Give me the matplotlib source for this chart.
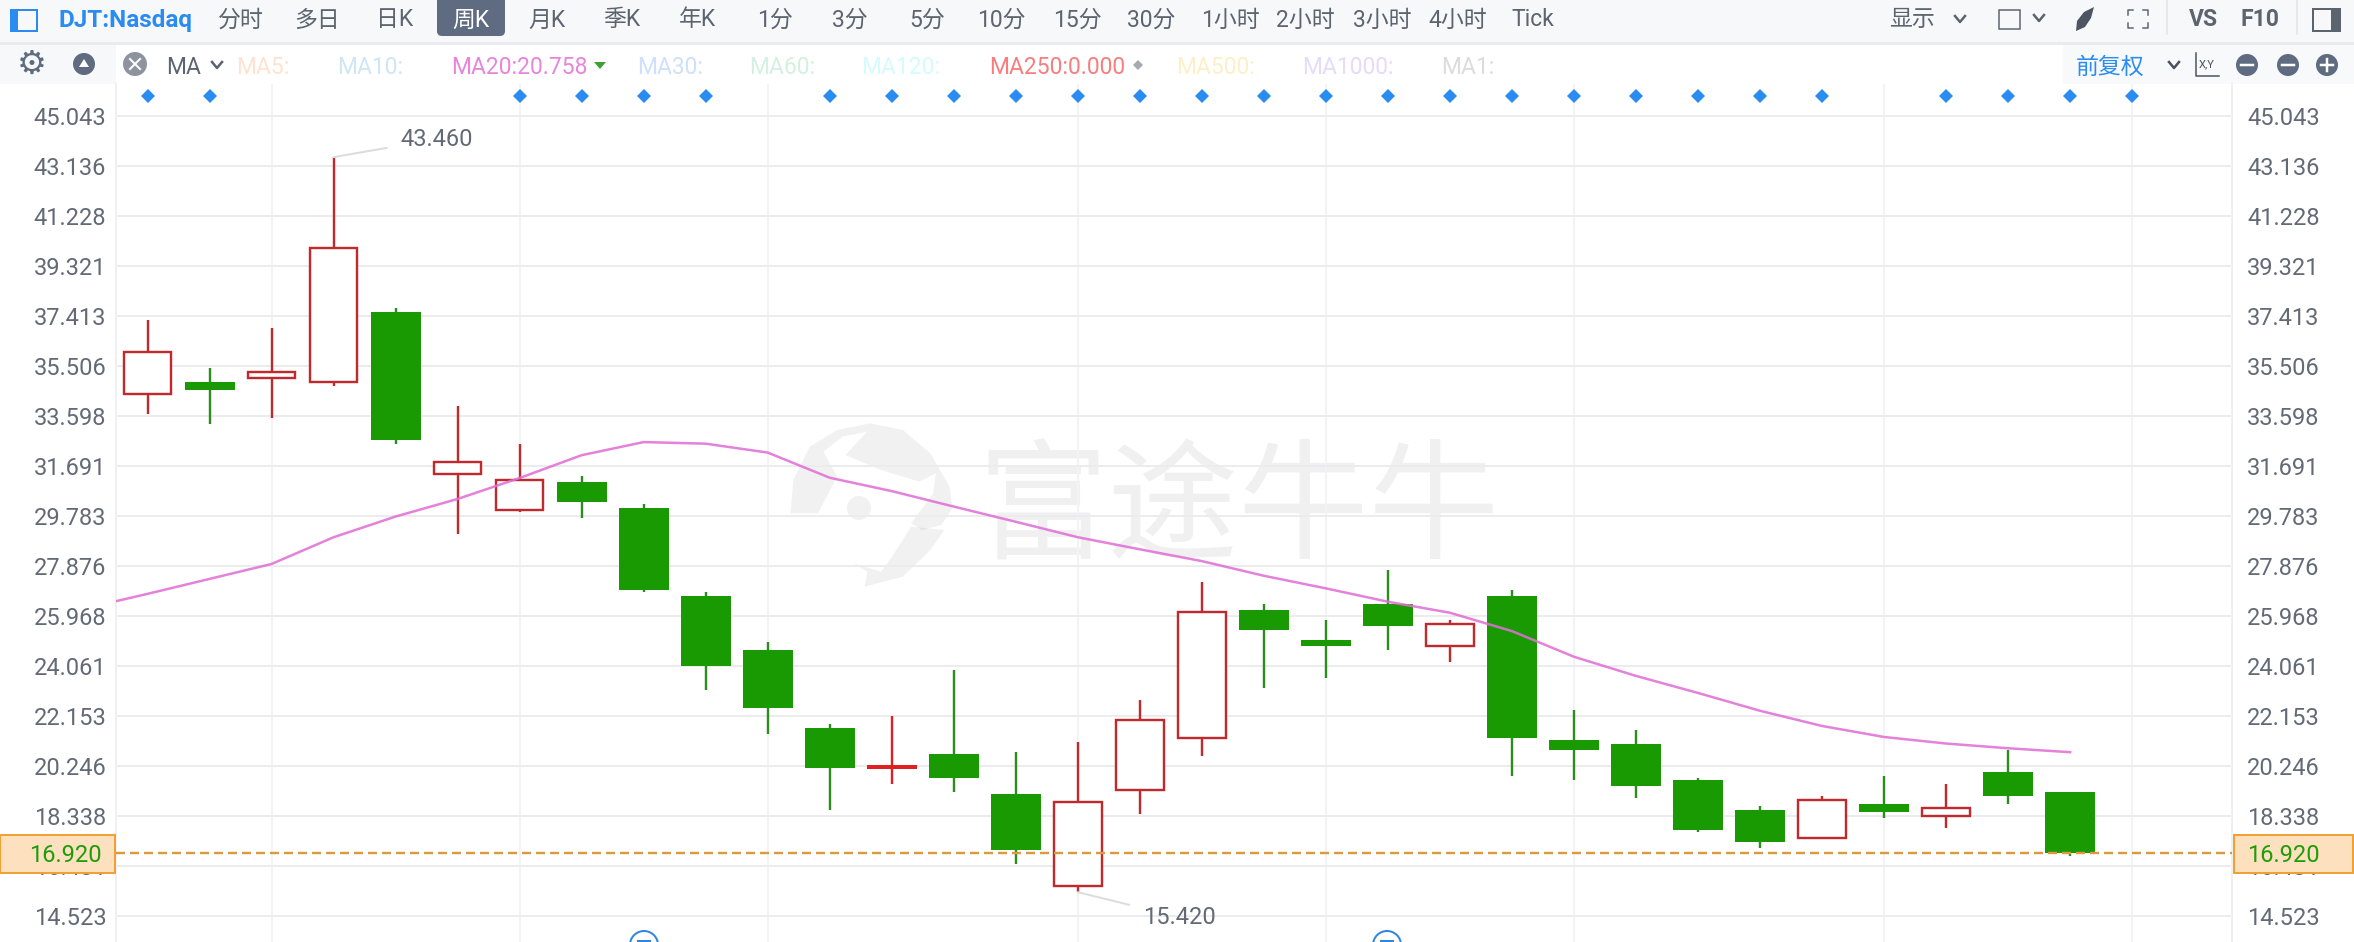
import numpy as np
import matplotlib
matplotlib.use('Agg')
import matplotlib.pyplot as plt
from matplotlib.patches import Rectangle, Circle, FancyBboxPatch, Polygon

W, H = 2354, 942
PX = 72 / 100  # one pixel in points

opens = [34.43, 34.88, 35.02, 34.88, 37.55, 31.36, 30.00, 31.07, 30.08, 26.72, 24.66, 21.68, 20.12, 20.69, 19.17, 15.66,
         19.32, 21.30, 26.19, 25.04, 26.41, 24.80, 26.72, 21.23, 21.07, 19.70, 18.56, 17.47, 18.78, 18.31, 20.00, 19.24]
closes = [36.04, 34.58, 35.28, 40.01, 32.67, 31.84, 31.16, 30.31, 26.95, 24.05, 22.45, 20.16, 20.27, 19.78, 17.03, 18.87,
          22.00, 26.12, 25.42, 24.81, 25.57, 25.66, 21.30, 20.84, 19.47, 17.79, 17.33, 18.95, 18.48, 18.64, 19.09, 16.92]
highs = [37.25, 35.42, 36.94, 43.46, 37.69, 33.97, 32.52, 31.30, 30.23, 26.87, 24.96, 21.84, 22.14, 23.90, 20.77, 21.15,
         22.75, 27.25, 26.41, 25.80, 27.71, 25.80, 26.95, 22.37, 21.61, 19.78, 18.71, 19.09, 19.85, 19.55, 20.84, 19.24]
lows = [33.66, 33.28, 33.52, 34.73, 32.52, 29.08, 29.92, 29.69, 26.87, 23.13, 21.45, 18.55, 19.55, 19.24, 16.49, 15.42,
        18.40, 20.62, 23.21, 23.59, 24.66, 24.20, 19.85, 19.70, 19.01, 17.72, 17.11, 17.47, 18.25, 17.87, 18.78, 16.80]
ma20_x = list(range(-1, 32))
ma20 = [26.25, 26.80, 27.37, 27.94, 28.96, 29.75, 30.42, 31.22, 32.09, 32.59, 32.53, 32.19, 31.23, 30.72, 30.13, 29.55,
        28.96, 28.50, 28.05, 27.49, 27.01, 26.50, 26.08, 25.38, 24.40, 23.67, 23.02, 22.34, 21.76, 21.34, 21.09, 20.91, 20.76]
y_ticks = [45.043, 43.136, 41.228, 39.321, 37.413, 35.506, 33.598, 31.691, 29.783, 27.876, 25.968, 24.061, 22.153,
           20.246, 18.338, 16.431, 14.523]
x_grid = [2, 6, 10, 15, 19, 23, 28, 32]
event_marks = [0, 1, 6, 7, 8, 9, 11, 12, 13, 14, 15, 16, 17, 18, 19, 20, 21, 22, 23, 24, 25, 26, 27, 29, 30, 31, 32]
doji = [12]
last_price = 16.92
period_names = ['分时', '多日', '日K', '周K', '月K', '季K', '年K', '1分', '3分', '5分', '10分', '15分', '30分',
                '1小时', '2小时', '3小时', '4小时', 'Tick']
period_x = [241, 317, 395, 471, 547, 622, 697, 775, 850, 927, 1001, 1077, 1151, 1230, 1305, 1382, 1458, 1533]
ma_names = ['MA5:', 'MA10:', 'MA20:20.758', 'MA30:', 'MA60:', 'MA120:', 'MA250:0.000', 'MA500:', 'MA1000:', 'MA1:']
ma_x = [263, 370, 519, 670, 782, 901, 1057, 1216, 1348, 1468]
ma_colors = ['#fde3d0', '#cfe6f5', '#e884dc', '#cfe0fb', '#d5efe3', '#d5fbfd', '#f77e7e', '#fdf0c8', '#e5dbfa', '#dcdcdc']

FONT = ['Roboto', 'Noto Sans CJK SC', 'DejaVu Sans']
RED = '#bf2a2e'
GREEN = '#1a9a02'
WICK_G = '#2c8c1e'
GREY = '#5f6b80'
BLUE = '#2a8cf0'
TICK = '#636a76'
BAR_FS = 16.5
ROW1 = 20
ROW2 = 67

fig = plt.figure(figsize=(W / 100, H / 100), dpi=100, facecolor='white')

# background layer: toolbars and watermark
back = fig.add_axes([0, 0, 1, 1], zorder=0)
back.set_xlim(0, W)
back.set_ylim(H, 0)
back.axis('off')

back.add_patch(Rectangle((0, 0), W, 42, fc='#f7f8fa', ec='none'))
back.add_patch(Rectangle((0, 42), W, 3, fc='#e9ebee', ec='none'))
back.add_patch(Rectangle((0, 45), 116, 39, fc='#f7f8fa', ec='none'))
back.add_patch(Rectangle((2063, 45), W - 2063, 39, fc='#f7f9fb', ec='none'))

# watermark
back.text(1238, 512, '富途牛牛', ha='center', va='center', fontsize=94,
          family=['Noto Sans CJK SC'], color='black', alpha=0.06)
wm = dict(fc='black', ec='none', alpha=0.055)
logo_a = [(165, 400), (170, 300), (200, 200), (250, 150), (310, 130), (370, 150), (420, 220), (455, 320), (460, 385),
          (440, 435), (405, 450), (385, 430), (425, 340), (430, 280), (400, 305), (330, 270), (265, 225), (305, 155),
          (260, 170), (225, 215), (250, 290), (215, 400)]
logo_b = [(385, 440), (350, 530), (330, 575), (300, 560), (280, 550), (305, 575), (300, 620), (370, 590), (420, 510), (445, 450)]
back.add_patch(Polygon([(700 + x / 1.823, 380 + y / 3) for x, y in logo_a], **wm))
back.add_patch(Polygon([(700 + x / 1.823, 380 + y / 3) for x, y in logo_b], **wm))
back.add_patch(Circle((859, 508), 12, **wm))

# main chart, every mark goes through these scales
ax = fig.add_axes([116 / W, 0, (2232 - 116) / W, (H - 84) / H], zorder=1)
ax.patch.set_alpha(0)
ax.set_xlim((116 - 147.5) / 62.02, (2232 - 147.5) / 62.02)
ax.set_ylim(45.043 - (H - 115.67) * 0.03815, 45.043 + (115.67 - 84) * 0.03815)
ax.set_yticks(y_ticks)
ax.set_yticklabels(['%.3f' % v for v in y_ticks], family=FONT, fontsize=17, color=TICK, va='center_baseline')
ax.set_xticks(x_grid)
ax.set_xticklabels([])
ax.tick_params(length=0)
ax.tick_params(axis='y', pad=7)
ax.grid(axis='y', color='#ececee', lw=2 * PX)
ax.grid(axis='x', color='#f3f3f5', lw=2 * PX)
ax.set_axisbelow(True)
for s in ['top', 'bottom']:
    ax.spines[s].set_visible(False)
for s in ['left', 'right']:
    ax.spines[s].set_color('#f0f0f2')
    ax.spines[s].set_linewidth(2 * PX)

right = ax.twinx()
right.set_zorder(0)
right.set_ylim(ax.get_ylim())
right.set_yticks(y_ticks)
right.set_yticklabels(['%.3f' % v for v in y_ticks], family=FONT, fontsize=17, color=TICK, va='center_baseline')
right.tick_params(length=0, pad=11)
for s in right.spines.values():
    s.set_visible(False)

for i in range(len(opens)):
    up = closes[i] >= opens[i]
    if i in doji:
        ax.vlines(i, lows[i], highs[i], color='#d9232a', lw=2.4 * PX, zorder=3)
        ax.bar(i, closes[i] - opens[i], bottom=opens[i], width=50 / 62, color='#e01f1f', zorder=4)
    elif up:
        ax.vlines(i, lows[i], highs[i], color=RED, lw=2.4 * PX, zorder=3)
        ax.bar(i, closes[i] - opens[i], bottom=opens[i], width=47.5 / 62, facecolor='white', edgecolor=RED,
               linewidth=2.4 * PX, zorder=4)
    else:
        ax.vlines(i, lows[i], highs[i], color=WICK_G, lw=2.4 * PX, zorder=3)
        ax.bar(i, opens[i] - closes[i], bottom=closes[i], width=50 / 62, color=GREEN, zorder=4)

ax.plot(ma20_x, ma20, color='#e070d6', lw=2.5 * PX, alpha=0.88, zorder=5)
ax.axhline(last_price, color='#dc9a40', lw=2.4 * PX, ls=(0, (9 / 2.4, 5 / 2.4)), zorder=6)

# event diamonds along the top of the plot
ax.plot(event_marks, [0.986] * len(event_marks), 'D', color=BLUE, ms=7.2, mew=0,
        transform=ax.get_xaxis_transform(), zorder=5, clip_on=False)

# high and low labels
ax.annotate('43.460', xy=(3, 43.46), xytext=(67, 18), textcoords='offset pixels', family=FONT, fontsize=17,
            color=TICK, va='center', ha='left', zorder=7,
            arrowprops=dict(arrowstyle='-', color='#dcdcdc', lw=2 * PX, shrinkA=8, shrinkB=0))
ax.annotate('15.420', xy=(15, 15.42), xytext=(65, -25), textcoords='offset pixels', family=FONT, fontsize=17,
            color=TICK, va='center', ha='left', zorder=7,
            arrowprops=dict(arrowstyle='-', color='#dcdcdc', lw=2 * PX, shrinkA=8, shrinkB=0))

# front layer: text of the toolbars, icons, price boxes
top = fig.add_axes([0, 0, 1, 1], zorder=3)
top.set_xlim(0, W)
top.set_ylim(H, 0)
top.axis('off')
top.patch.set_alpha(0)

top.text(106, 953, '12.616', ha='right', va='center', family=FONT, fontsize=17, color=TICK)
top.text(2247, 953, '12.616', ha='left', va='center', family=FONT, fontsize=17, color=TICK)

for xb, xe, xt, ha in [(0, 115, 102, 'right'), (2234, 2353, 2247, 'left')]:
    top.add_patch(Rectangle((xb, 835), xe - xb, 38, fc='#fde0bd', ec='#f0a035', lw=2 * PX, zorder=6))
    top.text(xt, 855, '16.920', ha=ha, va='center', family=FONT, fontsize=17, color='#1f9c0a', zorder=7)

# bottom circles, cut by the edge of the picture
for xc in [644, 1387]:
    top.add_patch(Circle((xc, 945), 14, fc='white', ec='#2e86de', lw=2 * PX))
    top.plot([xc - 6, xc + 6], [941, 941], color='#2e86de', lw=2 * PX)

# first row
top.add_patch(Rectangle((11, 10), 26, 21, fc='none', ec=BLUE, lw=2 * PX))
top.add_patch(Rectangle((11, 10), 7, 21, fc=BLUE, ec='none'))
top.text(59, ROW1, 'DJT:Nasdaq', ha='left', va='center', family=FONT, fontsize=17.5, fontweight='bold', color=BLUE)
top.add_patch(FancyBboxPatch((437, -6), 68, 42, boxstyle='round,pad=0,rounding_size=5', fc=GREY, ec='none'))
for name, xp in zip(period_names, period_x):
    col = 'white' if name == '周K' else '#5c6470'
    top.text(xp, ROW1, name, ha='center', va='center', family=FONT, fontsize=BAR_FS, color=col)
top.text(1912, ROW1, '显示', ha='center', va='center', family=FONT, fontsize=BAR_FS, color='#5c6470')
for xc, yc, col in [(1960, 19, '#5c6470'), (2039, 18, '#5c6470'), (217, 65, '#5c6470'), (2174, 65, '#4a5260')]:
    top.plot([xc - 5, xc, xc + 5], [yc - 3, yc + 3, yc - 3], color=col, lw=2.5 * PX)
top.add_patch(Rectangle((1999, 10), 21, 19, fc='none', ec='#5c6470', lw=1.5 * PX))
top.add_patch(Polygon([(2094, 7), (2091, 18), (2085, 27), (2076, 31), (2077, 21), (2084, 12)], fc='#4d5562', ec='none'))
for sx, sy in [(-1, -1), (1, -1), (-1, 1), (1, 1)]:
    xc, yc = 2138 + sx * 10, 19 + sy * 9
    top.plot([xc - sx * 5, xc, xc], [yc, yc, yc - sy * 5], color='#5c6470', lw=1.5 * PX)
top.plot([2167, 2167], [0, 34], color='#e2e4e8', lw=1.5 * PX)
top.plot([2297, 2297], [0, 34], color='#e2e4e8', lw=1.5 * PX)
top.text(2203, ROW1, 'VS', ha='center', va='center', family=FONT, fontsize=BAR_FS, fontweight='bold', color='#5c6470')
top.text(2260, ROW1, 'F10', ha='center', va='center', family=FONT, fontsize=BAR_FS, fontweight='bold', color='#5c6470')
top.add_patch(Rectangle((2313, 9), 27, 22, fc='none', ec='#5c6470', lw=2 * PX))
top.add_patch(Rectangle((2331, 9), 9, 22, fc='#5c6470', ec='none'))

# second row
top.text(32, 64, '\u2699', ha='center', va='center', family=['DejaVu Sans'], fontsize=24, color=GREY)
top.add_patch(Circle((84, 64), 11, fc=GREY, ec='none'))
top.add_patch(Polygon([(84, 59), (79, 67), (89, 67)], fc='white', ec='none'))
top.add_patch(Circle((135, 64), 12, fc='#8d94a0', ec='none'))
top.plot([130, 140], [59, 69], color='white', lw=2 * PX)
top.plot([130, 140], [69, 59], color='white', lw=2 * PX)
top.text(184, ROW2, 'MA', ha='center', va='center', family=FONT, fontsize=BAR_FS, color='#5c6470')
for name, xp, col in zip(ma_names, ma_x, ma_colors):
    top.text(xp, ROW2, name, ha='center', va='center', family=FONT, fontsize=BAR_FS, color=col)
top.add_patch(Polygon([(594, 62), (606, 62), (600, 69)], fc='#3f9f32', ec='none'))
top.add_patch(Polygon([(1138, 60), (1143, 65), (1138, 70), (1133, 65)], fc='#a5a9b0', ec='none'))
top.text(2110, ROW2, '前复权', ha='center', va='center', family=FONT, fontsize=BAR_FS, color=BLUE)
top.text(2207, 64, 'X,Y', ha='center', va='center', family=FONT, fontsize=8, color='#4a5260')
top.plot([2196, 2196, 2219], [53, 76, 76], color='#4a5260', lw=1.5 * PX)
for xc, sym in [(2247, '='), (2288, '-'), (2327, '+')]:
    top.add_patch(Circle((xc, 65), 11, fc=GREY, ec='none'))
    top.plot([xc - 6, xc + 6], [65, 65], color='white', lw=2.5 * PX)
    if sym == '+':
        top.plot([xc, xc], [59, 71], color='white', lw=2.5 * PX)

fig.savefig('out.png', dpi=100)
